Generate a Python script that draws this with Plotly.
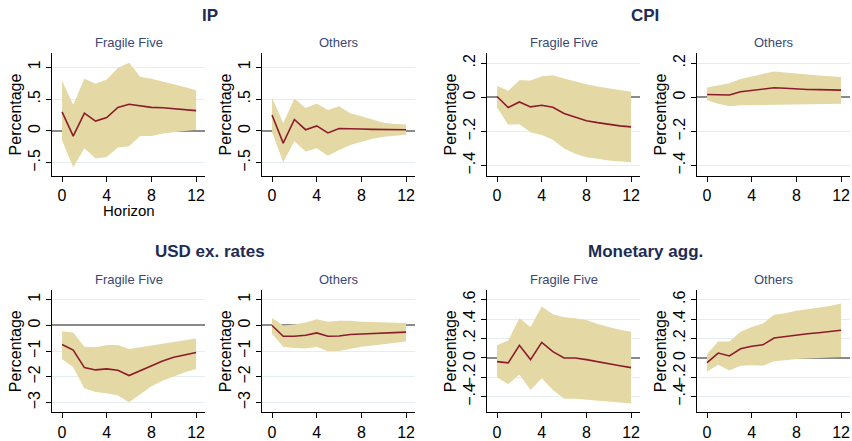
import plotly.graph_objects as go

horizon = list(range(13))

# IP
ip_ff_irf   = [0.30, -0.08, 0.28, 0.155, 0.21, 0.37, 0.42, 0.39, 0.37, 0.365, 0.35, 0.335, 0.32]
ip_ff_up    = [0.79, 0.41, 0.82, 0.74, 0.81, 0.99, 1.07, 0.85, 0.82, 0.78, 0.73, 0.69, 0.64]
ip_ff_lo    = [-0.15, -0.57, -0.27, -0.43, -0.41, -0.26, -0.24, -0.08, -0.08, -0.04, -0.02, 0.0, 0.02]
ip_ot_irf   = [0.25, -0.19, 0.18, 0.02, 0.08, -0.03, 0.04, 0.03, 0.03, 0.025, 0.02, 0.02, 0.02]
ip_ot_up    = [0.52, 0.12, 0.51, 0.36, 0.43, 0.33, 0.39, 0.28, 0.23, 0.18, 0.13, 0.11, 0.10]
ip_ot_lo    = [-0.02, -0.49, -0.16, -0.32, -0.27, -0.39, -0.30, -0.22, -0.17, -0.12, -0.09, -0.07, -0.06]

# CPI
cpi_ff_irf  = [0.005, -0.06, -0.027, -0.056, -0.046, -0.058, -0.094, -0.117, -0.137, -0.148, -0.158, -0.167, -0.173]
cpi_ff_up   = [0.067, 0.038, 0.10, 0.098, 0.123, 0.13, 0.11, 0.092, 0.077, 0.063, 0.054, 0.042, 0.033]
cpi_ff_lo   = [-0.06, -0.16, -0.158, -0.205, -0.22, -0.248, -0.30, -0.33, -0.35, -0.36, -0.37, -0.377, -0.38]
cpi_ot_irf  = [0.017, 0.016, 0.014, 0.033, 0.04, 0.047, 0.056, 0.053, 0.048, 0.046, 0.045, 0.043, 0.042]
cpi_ot_up   = [0.058, 0.069, 0.083, 0.108, 0.123, 0.137, 0.152, 0.146, 0.138, 0.133, 0.128, 0.124, 0.119]
cpi_ot_lo   = [-0.017, -0.038, -0.052, -0.046, -0.046, -0.044, -0.042, -0.041, -0.040, -0.040, -0.039, -0.039, -0.038]

# USD exchange rates
usd_ff_irf  = [-0.74, -0.96, -1.64, -1.73, -1.69, -1.74, -1.95, -1.76, -1.54, -1.38, -1.24, -1.13, -1.05]
usd_ff_up   = [-0.23, -0.27, -0.83, -0.85, -0.76, -0.76, -0.92, -0.85, -0.77, -0.71, -0.64, -0.58, -0.51]
usd_ff_lo   = [-1.31, -1.63, -2.44, -2.59, -2.64, -2.73, -2.99, -2.69, -2.37, -2.15, -1.99, -1.82, -1.69]
usd_ot_irf  = [0.0, -0.42, -0.42, -0.38, -0.29, -0.42, -0.41, -0.35, -0.33, -0.31, -0.29, -0.27, -0.26]
usd_ot_up   = [0.29, 0.0, 0.04, 0.12, 0.24, 0.14, 0.18, 0.18, 0.14, 0.13, 0.12, 0.11, 0.10]
usd_ot_lo   = [-0.32, -0.83, -0.88, -0.90, -0.83, -1.0, -0.99, -0.90, -0.83, -0.78, -0.73, -0.68, -0.62]

# Monetary aggregates
mon_ff_irf  = [-0.038, -0.05, 0.13, -0.017, 0.16, 0.065, 0.0, 0.0, -0.017, -0.04, -0.06, -0.08, -0.10]
mon_ff_up   = [0.13, 0.18, 0.41, 0.32, 0.53, 0.45, 0.42, 0.41, 0.39, 0.35, 0.32, 0.29, 0.27]
mon_ff_lo   = [-0.20, -0.27, -0.17, -0.33, -0.21, -0.33, -0.42, -0.42, -0.43, -0.44, -0.45, -0.46, -0.47]
mon_ot_irf  = [-0.048, 0.05, 0.02, 0.095, 0.12, 0.135, 0.205, 0.22, 0.24, 0.25, 0.26, 0.27, 0.285]
mon_ot_up   = [0.04, 0.17, 0.17, 0.27, 0.32, 0.355, 0.445, 0.46, 0.485, 0.50, 0.52, 0.535, 0.56]
mon_ot_lo   = [-0.14, -0.07, -0.13, -0.08, -0.075, -0.08, -0.035, -0.024, -0.01, -0.005, 0.0, 0.005, 0.01]

group_titles = ["IP", "CPI", "USD ex. rates", "Monetary agg."]
panel_titles = ["Fragile Five", "Others"]

ip_ticks = [-0.5, 0, 0.5, 1];          ip_labels = ["\u2212.5", "0", ".5", "1"]
cpi_ticks = [-0.4, -0.2, 0, 0.2];      cpi_labels = ["\u2212.4", "\u2212.2", "0", ".2"]
usd_ticks = [-3, -2, -1, 0, 1];        usd_labels = ["\u22123", "\u22122", "\u22121", "0", "1"]
mon_ticks = [-0.4, -0.2, 0, 0.2, 0.4, 0.6]; mon_labels = ["\u2212.4", "\u2212.2", "0", ".2", ".4", ".6"]
x_ticks = [0, 4, 8, 12]

W, H = 852, 441
BAND = "#e4d8a4"
LINE = "#8c1c2c"
TITLE_C = "#1d2b55"
SUB_C = "#3a4878"
FONT = "Liberation Sans, Arial, sans-serif"

panels = [
    # (irf, up, lo, px x0, px x1, px y0, px y1, yrange, ticks, labels)
    (ip_ff_irf, ip_ff_up, ip_ff_lo, 52, 205, 54, 178, [-0.70, 1.22], ip_ticks, ip_labels),
    (ip_ot_irf, ip_ot_up, ip_ot_lo, 262, 415, 54, 178, [-0.70, 1.22], ip_ticks, ip_labels),
    (cpi_ff_irf, cpi_ff_up, cpi_ff_lo, 487, 640, 54, 178, [-0.458, 0.258], cpi_ticks, cpi_labels),
    (cpi_ot_irf, cpi_ot_up, cpi_ot_lo, 697, 850, 54, 178, [-0.458, 0.258], cpi_ticks, cpi_labels),
    (usd_ff_irf, usd_ff_up, usd_ff_lo, 52, 205, 294, 418, [-3.38, 1.38], usd_ticks, usd_labels),
    (usd_ot_irf, usd_ot_up, usd_ot_lo, 262, 415, 294, 418, [-3.38, 1.38], usd_ticks, usd_labels),
    (mon_ff_irf, mon_ff_up, mon_ff_lo, 487, 640, 294, 418, [-0.56, 0.70], mon_ticks, mon_labels),
    (mon_ot_irf, mon_ot_up, mon_ot_lo, 697, 850, 294, 418, [-0.56, 0.70], mon_ticks, mon_labels),
]

fig = go.Figure()
layout = dict(
    width=W, height=H, margin=dict(l=0, r=0, t=0, b=0),
    paper_bgcolor="white", plot_bgcolor="white", showlegend=False,
    font=dict(family=FONT, size=15, color="black"),
)
annotations = []

for i, (irf, up, lo, x0, x1, y0, y1, yr, yt, yl) in enumerate(panels):
    n = i + 1
    xa = "x" if n == 1 else f"x{n}"
    ya = "y" if n == 1 else f"y{n}"
    fig.add_trace(go.Scatter(
        x=horizon + horizon[::-1], y=up + lo[::-1], fill="toself",
        fillcolor=BAND, line=dict(width=0), mode="lines",
        hoverinfo="skip", xaxis=xa, yaxis=ya))
    fig.add_trace(go.Scatter(
        x=horizon, y=irf, mode="lines", line=dict(color=LINE, width=1.6),
        xaxis=xa, yaxis=ya))
    layout[f"xaxis{'' if n == 1 else n}"] = dict(
        domain=[x0 / W, x1 / W], anchor=ya, range=[-0.9, 12.8],
        tickvals=x_ticks, ticks="outside", ticklen=5, tickcolor="black",
        showline=True, linecolor="black", linewidth=1.2, showgrid=False,
        zeroline=False, tickfont=dict(size=16, color="black"))
    layout[f"yaxis{'' if n == 1 else n}"] = dict(
        domain=[1 - y1 / H, 1 - y0 / H], anchor=xa, range=yr,
        tickvals=yt, ticktext=yl, tickangle=-90, ticks="outside", ticklen=5,
        tickcolor="black", showline=True, linecolor="black", linewidth=1.2,
        showgrid=True, gridcolor="#e4eef0", gridwidth=1,
        zeroline=True, zerolinecolor="#8a8a8a", zerolinewidth=1.6,
        tickfont=dict(size=16, color="black"))
    # subtitle
    annotations.append(dict(
        text=panel_titles[i % 2], x=(x0 + x1) / 2 / W, y=1 - (y0 - 11) / H,
        xref="paper", yref="paper", showarrow=False, xanchor="center", yanchor="middle",
        font=dict(size=13, color=SUB_C, family=FONT)))
    # y axis title
    annotations.append(dict(
        text="Percentage", x=(x0 - 37) / W, y=1 - (y0 + y1) / 2 / H,
        xref="paper", yref="paper", showarrow=False, textangle=-90,
        xanchor="center", yanchor="middle",
        font=dict(size=16, color="black", family=FONT)))

# group titles
for title, cx, cy in [(group_titles[0], 210, 16), (group_titles[1], 645, 16),
                      (group_titles[2], 210, 255), (group_titles[3], 645, 255)]:
    annotations.append(dict(
        text=f"<b>{title}</b>", x=cx / W, y=1 - cy / H, xref="paper", yref="paper",
        showarrow=False, xanchor="center", yanchor="middle",
        font=dict(size=17, color=TITLE_C, family=FONT)))

annotations.append(dict(
    text="Horizon", x=128.5 / W, y=1 - 213 / H, xref="paper", yref="paper",
    showarrow=False, xanchor="center", yanchor="middle",
    font=dict(size=15, color="black", family=FONT)))

layout["annotations"] = annotations
fig.update_layout(**layout)
fig.write_html(
    "out.html",
    config={"displayModeBar": False},
    post_script="document.body.style.margin='0';document.body.style.padding='0';document.body.style.overflow='hidden';",
)
